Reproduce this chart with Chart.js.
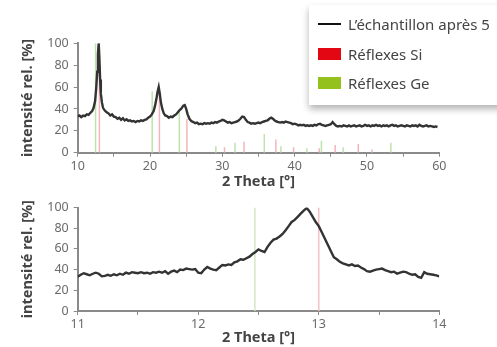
<!DOCTYPE html>
<html>
<head>
<meta charset="utf-8">
<script src="https://cdn.jsdelivr.net/npm/chart.js@4.4.1/dist/chart.umd.min.js"></script>
<style>
  body { margin: 0; background: #fff; width: 497px; height: 347px; overflow: hidden; position: relative; font-family: "Noto Sans", sans-serif; }
  canvas { position: absolute; left: 0; }
  #topChart { top: 0; }
  #zoomChart { top: 195px; }
  #legend { position: absolute; left: 309px; top: 5px; width: 200px; height: 100px; background: #fff; box-shadow: 0 4px 7px rgba(0,0,0,0.3); }
  .item { position: absolute; left: 9px; height: 20px; line-height: 20px; font-size: 15px; color: #444; white-space: nowrap; }
  .item span.sw { position: absolute; left: 0; }
  .item span.txt { position: absolute; left: 30px; }
</style>
</head>
<body>
<canvas id="topChart" width="497" height="195"></canvas>
<canvas id="zoomChart" width="497" height="152"></canvas>
<div id="legend">
  <div class="item" style="top:9px"><span class="sw" style="top:9px;width:23px;height:2px;background:#111"></span><span class="txt">L’échantillon après 5</span></div>
  <div class="item" style="top:39px"><span class="sw" style="top:3.5px;width:23px;height:12.5px;background:#e30613"></span><span class="txt">Réflexes Si</span></div>
  <div class="item" style="top:68px"><span class="sw" style="top:3.5px;width:23px;height:12.5px;background:#95c11f"></span><span class="txt">Réflexes Ge</span></div>
</div>
<script>
// Diffractogramme complet (2 Theta, intensité rel.)
const topTheta = [10, 10.25, 10.5, 10.75, 11, 11.25, 11.5, 11.75, 12, 12.2, 12.4, 12.55, 12.7, 12.8, 12.9, 13, 13.1, 13.2, 13.35, 13.5, 13.75, 14, 14.25, 14.5, 14.75, 15, 15.25, 15.5, 15.75, 16, 16.25, 16.5, 16.75, 17, 17.25, 17.5, 17.75, 18, 18.25, 18.5, 18.75, 19, 19.25, 19.5, 19.75, 20, 20.25, 20.5, 20.7, 20.9, 21.05, 21.2, 21.35, 21.5, 21.7, 21.9, 22.1, 22.35, 22.6, 22.85, 23.1, 23.35, 23.6, 23.85, 24.1, 24.35, 24.6, 24.8, 25, 25.2, 25.45, 25.7, 26, 26.25, 26.5, 26.75, 27, 27.25, 27.5, 27.75, 28, 28.25, 28.5, 28.75, 29, 29.25, 29.5, 29.75, 30, 30.25, 30.5, 30.75, 31, 31.25, 31.5, 31.75, 32, 32.25, 32.5, 32.75, 33, 33.25, 33.5, 33.75, 34, 34.25, 34.5, 34.75, 35, 35.25, 35.5, 35.75, 36, 36.25, 36.5, 36.75, 37, 37.25, 37.5, 37.75, 38, 38.25, 38.5, 38.75, 39, 39.25, 39.5, 39.75, 40, 40.25, 40.5, 40.75, 41, 41.25, 41.5, 41.75, 42, 42.25, 42.5, 42.75, 43, 43.25, 43.5, 43.75, 44, 44.25, 44.5, 44.75, 45, 45.25, 45.5, 45.75, 46, 46.25, 46.5, 46.75, 47, 47.25, 47.5, 47.75, 48, 48.25, 48.5, 48.75, 49, 49.25, 49.5, 49.75, 50, 50.25, 50.5, 50.75, 51, 51.25, 51.5, 51.75, 52, 52.25, 52.5, 52.75, 53, 53.25, 53.5, 53.75, 54, 54.25, 54.5, 54.75, 55, 55.25, 55.5, 55.75, 56, 56.25, 56.5, 56.75, 57, 57.25, 57.5, 57.75, 58, 58.25, 58.5, 58.75, 59, 59.25, 59.5, 59.75];
const topIntensity = [33, 34, 32.5, 34, 33.5, 35, 34.5, 36.5, 38, 41, 47, 58, 74, 90, 100, 86, 67, 54, 46, 41, 38.5, 37, 36, 34, 35, 33, 32.5, 31, 32, 30, 31.5, 29.5, 30.5, 29, 29.5, 28.5, 29, 28, 29, 28.5, 29.5, 29, 30, 30.5, 32, 33, 35, 38, 43, 50, 56, 60, 54, 46, 40, 36, 34, 33.5, 32, 33, 32.5, 34, 35, 37, 39, 40.5, 43, 43.5, 40, 35, 31, 29, 28, 27, 27.5, 26, 26.5, 26, 27, 26.5, 27, 26.5, 27.5, 27, 28, 27.5, 28.5, 29, 30, 29.5, 28.5, 27.5, 28, 27, 27.5, 28, 28.5, 29.5, 31, 33, 32.5, 30, 28, 27.5, 26.5, 27, 26.5, 27, 27.5, 27, 28, 28.5, 29, 29.5, 31, 32, 31, 29.5, 28.5, 28, 27.5, 28, 27.5, 28.5, 28, 27.5, 27, 26, 26.5, 26, 25, 25.5, 25, 25.5, 24.5, 25, 24.5, 25, 24.5, 25.5, 25, 26, 26.5, 25.5, 25, 24.5, 25, 25.5, 26, 28, 26, 24.5, 24, 24.5, 24, 25, 24.5, 24, 25, 24, 24.5, 25, 24, 24.5, 25, 24, 24.5, 25.5, 24.5, 25, 24, 25, 24.5, 25.5, 24.5, 25, 24, 25, 24.5, 25, 24, 25, 25.5, 24.5, 25, 24, 24.5, 25, 24.5, 24, 25, 24.5, 24, 25, 24.5, 25, 24, 25.5, 24.5, 24, 24.5, 25, 24, 24.5, 24, 23.5, 24, 23.5];

// Zoom 11-14°
const zoomTheta = [11, 11.025, 11.05, 11.075, 11.1, 11.125, 11.15, 11.175, 11.2, 11.225, 11.25, 11.275, 11.3, 11.325, 11.35, 11.375, 11.4, 11.425, 11.45, 11.475, 11.5, 11.525, 11.55, 11.575, 11.6, 11.625, 11.65, 11.675, 11.7, 11.725, 11.75, 11.775, 11.8, 11.825, 11.85, 11.875, 11.9, 11.925, 11.95, 11.975, 12, 12.025, 12.05, 12.075, 12.1, 12.125, 12.15, 12.175, 12.2, 12.225, 12.25, 12.275, 12.3, 12.325, 12.35, 12.375, 12.4, 12.425, 12.45, 12.475, 12.5, 12.525, 12.55, 12.575, 12.6, 12.625, 12.65, 12.675, 12.7, 12.725, 12.75, 12.775, 12.8, 12.825, 12.85, 12.875, 12.9, 12.925, 12.95, 12.975, 13, 13.025, 13.05, 13.075, 13.1, 13.125, 13.15, 13.175, 13.2, 13.225, 13.25, 13.275, 13.3, 13.325, 13.35, 13.375, 13.4, 13.425, 13.45, 13.475, 13.5, 13.525, 13.55, 13.575, 13.6, 13.625, 13.65, 13.675, 13.7, 13.725, 13.75, 13.775, 13.8, 13.825, 13.85, 13.875, 13.9, 13.925, 13.95, 13.975, 14];
const zoomIntensity = [33, 35, 36.5, 35.5, 34.5, 36, 37, 36, 33.5, 34, 35, 34, 35.5, 34.5, 36, 35, 37, 36, 37.5, 37, 36.5, 37.5, 36.5, 37, 36, 37.5, 37, 38, 37, 38.5, 36, 38, 39, 37.5, 40, 39.5, 41, 40.5, 40, 40.5, 37, 36.5, 40, 42.5, 41, 40, 39.5, 42, 44.5, 44, 45, 44.5, 47, 48, 50, 49.5, 51, 52.5, 55, 57, 59.5, 58, 57, 62, 66, 69, 70, 72, 74.5, 78, 82, 86, 88, 91, 94, 97, 99.5, 96, 91, 86, 82, 76, 70, 64, 58, 52, 50, 47.5, 46, 45, 44, 45, 43.5, 44, 42, 40.5, 38.5, 38, 39, 40, 40.5, 41, 39.5, 38.5, 37.5, 38, 36, 37, 38, 37.5, 36, 35, 35.5, 33, 32, 37.5, 36, 35.5, 35, 34.5, 33.5];

// Réflexes de référence
const siTheta = [13.0, 21.3, 25.1, 30.3, 33.0, 37.4, 39.85, 43.4, 45.6, 48.8, 50.7];
const siHeight = [100, 56, 31, 5, 10, 12, 5, 4, 7, 8, 3];
const geTheta = [12.47, 20.3, 24.05, 29.1, 31.75, 35.8, 38.1, 41.7, 43.7, 46.7, 53.3];
const geHeight = [100, 56, 39, 6, 9, 17, 6, 4, 11, 5, 9];

function pts(xs, ys) {
  return xs.map((x, i) => ({ x: x, y: ys[i] }));
}
// chaque réflexe = un trait vertical de 0 à h
function sticks(xs, hs) {
  const out = [];
  xs.forEach((x, i) => { out.push({ x: x, y: 0 }, { x: x, y: hs[i] }, { x: x, y: null }); });
  return out;
}

const tickFont = { family: 'Noto Sans', size: 12.5 };
const titleFont = { family: 'Noto Sans', size: 14.5, weight: 'bold' };

function makeChart(id, theta, inten, xmin, xmax, xstep, xlabel, padTop, xHeight, xTitlePad, siCol, geCol) {
  return new Chart(document.getElementById(id), {
    type: 'scatter',
    data: {
      datasets: [
        { data: pts(theta, inten), showLine: true, borderColor: '#333', borderWidth: 2.4, pointRadius: 0, tension: 0 },
        { data: sticks(siTheta, siHeight), showLine: true, spanGaps: false, borderColor: siCol, borderWidth: 1.5, pointRadius: 0 },
        { data: sticks(geTheta, geHeight), showLine: true, spanGaps: false, borderColor: geCol, borderWidth: 1.5, pointRadius: 0 }
      ]
    },
    options: {
      responsive: false,
      animation: false,
      layout: { padding: { left: 0, right: 57.7, top: padTop, bottom: 0 } },
      plugins: { legend: { display: false }, tooltip: { enabled: false } },
      scales: {
        x: {
          type: 'linear', min: xmin, max: xmax,
          afterFit: s => { s.height = xHeight; },
          border: { color: '#8a8a8a', width: 2 },
          grid: { drawOnChartArea: false, drawTicks: true, tickLength: 4, color: '#8a8a8a' },
          ticks: { stepSize: xstep, padding: 2, color: '#6a6a6a', font: tickFont, maxRotation: 0,
            callback: v => (Math.abs(v - Math.round(v / xlabel) * xlabel) < 1e-6 ? v : '') },
          title: { display: true, text: '2 Theta [°]', color: '#444', font: titleFont, padding: { top: 0, bottom: xTitlePad } }
        },
        y: {
          min: 0, max: 100,
          afterFit: s => { s.width = 77.7; },
          border: { color: '#8a8a8a', width: 2 },
          grid: { drawOnChartArea: false, drawTicks: true, tickLength: 4, color: '#8a8a8a' },
          ticks: { stepSize: 10, padding: 5, color: '#6a6a6a', font: tickFont,
            callback: v => (v % 20 === 0 ? v : '') },
          title: { display: true, text: 'intensité rel. [%]', color: '#444', font: titleFont, padding: { top: 19.3, bottom: 0 } }
        }
      }
    }
  });
}

makeChart('topChart', topTheta, topIntensity, 10, 60, 5, 10, 43.3, 42.3, 4.8, '#f5b4ba', '#bfe2ad');
makeChart('zoomChart', zoomTheta, zoomIntensity, 11, 14, 0.5, 1, 7.3, 36, 0, '#f3c3c7', '#d0eac6');
</script>
</body>
</html>
